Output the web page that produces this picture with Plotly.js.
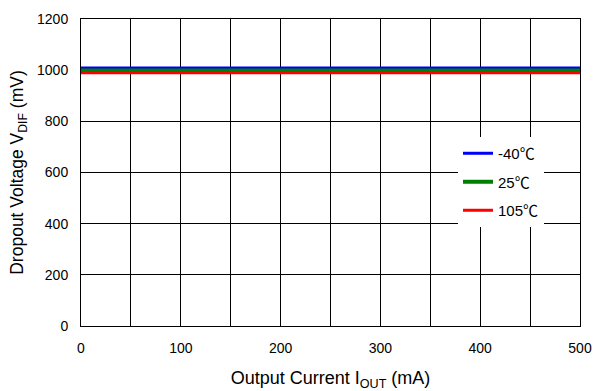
<!DOCTYPE html>
<html>
<head>
<meta charset="utf-8">
<script src="https://cdn.plot.ly/plotly-3.0.1.min.js"></script>
<style>html,body{margin:0;padding:0;background:#fff;}#chart{width:593px;height:391px;}</style>
</head>
<body>
<div id="chart"></div>
<script>
const currentMA = [0, 50, 100, 150, 200, 250, 300, 350, 400, 450, 500];
const vdifM40 = [1008, 1008, 1008, 1008, 1008, 1008, 1008, 1008, 1008, 1008, 1008];
const vdif25 = [999, 999, 999, 999, 999, 999, 999, 999, 999, 999, 999];
const vdif105 = [990, 990, 990, 990, 990, 990, 990, 990, 990, 990, 990];
const seriesNames = ['-40℃', '25℃', '105℃'];
const seriesColors = ['#0000ff', '#008000', '#ff0000'];
const xTickVals = [0, 100, 200, 300, 400, 500];
const yTickVals = [0, 200, 400, 600, 800, 1000, 1200];

const ys = [vdifM40, vdif25, vdif105];
const traces = ys.map((y, i) => ({
  x: currentMA, y: y, type: 'scatter', mode: 'lines',
  name: seriesNames[i], legendgroup: 'g' + i,
  line: {color: seriesColors[i], width: i === 1 ? 4 : 3},
  cliponaxis: false
}));

const font = 'Liberation Sans, Arial, sans-serif';
const legendFont = 'Liberation Sans, Noto Sans CJK SC, sans-serif';
const layout = {
  width: 593, height: 391,
  margin: {l: 81, r: 13, t: 19, b: 65},
  paper_bgcolor: '#fff', plot_bgcolor: '#fff',
  font: {family: font, size: 14, color: '#000'},
  showlegend: true,
  legend: {
    x: 0.7555, y: 0.6156, xanchor: 'left', yanchor: 'top',
    bgcolor: '#fff', borderwidth: 0,
    font: {family: legendFont, size: 15, color: '#000'},
    tracegroupgap: 6
  },
  xaxis: {
    range: [0, 500], tickvals: xTickVals, ticks: '',
    ticklabelstandoff: 9,
    showgrid: true, gridcolor: '#000', gridwidth: 1,
    minor: {dtick: 50, showgrid: true, gridcolor: '#000', gridwidth: 1},
    showline: true, linecolor: '#000', linewidth: 1, mirror: true,
    zeroline: false, automargin: false,
    tickfont: {family: font, size: 14, color: '#000'},
    title: {text: 'Output Current I<sub>OUT</sub> (mA)', font: {family: font, size: 18, color: '#000'}, standoff: 19}
  },
  yaxis: {
    range: [0, 1200], tickvals: yTickVals, ticks: '',
    ticklabelstandoff: 9,
    showgrid: true, gridcolor: '#000', gridwidth: 1,
    showline: true, linecolor: '#000', linewidth: 1, mirror: true,
    zeroline: false, automargin: false,
    tickfont: {family: font, size: 14, color: '#000'},
    title: {text: 'Dropout Voltage V<sub>DIF</sub> (mV)', font: {family: font, size: 17.5, color: '#000'}, standoff: 8}
  }
};

Plotly.newPlot('chart', traces, layout, {staticPlot: true, displayModeBar: false});
</script>
</body>
</html>
